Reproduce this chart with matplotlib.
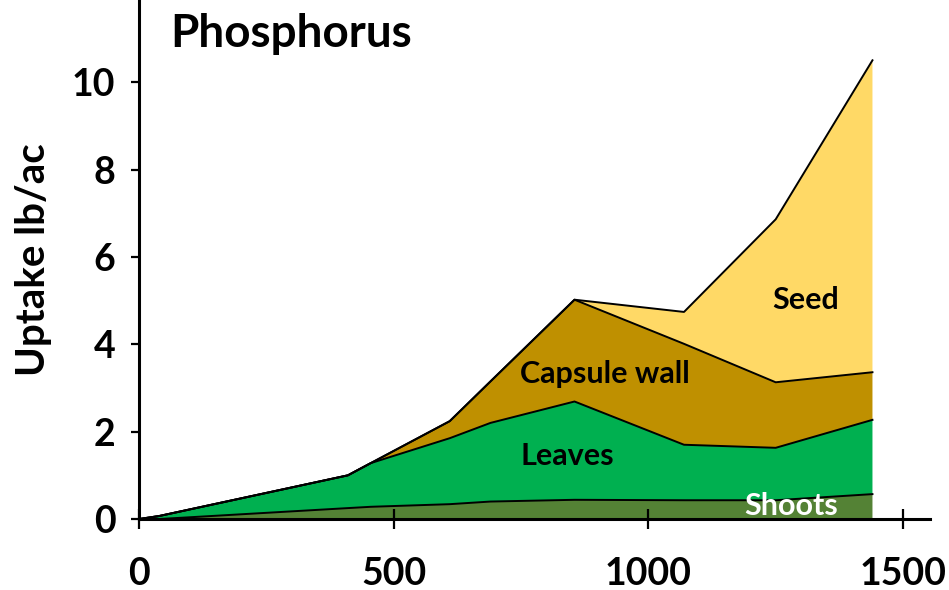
import numpy as np
import matplotlib
matplotlib.use("Agg")
import matplotlib.pyplot as plt

plt.rcParams['font.family'] = ['Lato', 'DejaVu Sans']
plt.rcParams['font.weight'] = 'bold'

# growing degree days (x) and stacked P uptake by plant part
gdd = [0, 40, 410, 455, 610, 690, 855, 1070, 1250, 1440]
shoots = [0, 0, 0.25, 0.28, 0.34, 0.40, 0.44, 0.43, 0.43, 0.57]
leaves = [0, 0.07, 0.75, 1.00, 1.51, 1.80, 2.25, 1.27, 1.20, 1.70]
capsule = [0, 0, 0, 0, 0.39, 0.95, 2.33, 2.31, 1.50, 1.09]
seed = [0, 0, 0, 0, 0, 0, 0, 0.73, 3.73, 7.14]

names = ["Shoots", "Leaves", "Capsule wall", "Seed"]
colors = ["#548235", "#00B050", "#BF9000", "#FFD966"]
xticks = [0, 500, 1000, 1500]
yticks = [0, 2, 4, 6, 8, 10]

fig = plt.figure(figsize=(9.49, 5.90), dpi=100)
ax = fig.add_axes([0.1465, 0.1203, 0.98 - 0.1465, 1 - 0.1203])

ax.stackplot(gdd, shoots, leaves, capsule, seed, colors=colors, linewidth=0)

# black boundary lines
cum = np.cumsum(np.array([shoots, leaves, capsule, seed]), axis=0)
for row in cum:
    ax.plot(gdd, row, color="black", lw=1.4, solid_joinstyle="round")

ax.set_xlim(0, 1553)
ax.set_ylim(0, 11.88)
ax.set_xticks(xticks)
ax.set_yticks(yticks)
ax.tick_params(axis='x', direction='inout', length=14, width=1.6, labelsize=27, pad=20)
ax.tick_params(axis='y', direction='out', length=6, width=1.6, labelsize=27, pad=11)
for lab in ax.get_xticklabels() + ax.get_yticklabels():
    lab.set_fontweight('bold')

ax.spines['top'].set_visible(False)
ax.spines['right'].set_visible(False)
ax.spines['left'].set_linewidth(2.2)
ax.spines['bottom'].set_linewidth(2.2)

ax.set_ylabel("Uptake lb/ac", fontsize=29, fontweight='bold', labelpad=14)

ax.text(62, 11.1, "Phosphorus", fontsize=33, fontweight='bold', va='center', ha='left')
ax.text(1309, 5.01, "Seed", fontsize=22, fontweight='bold', ha='center', va='center')
ax.text(914, 3.33, "Capsule wall", fontsize=22, fontweight='bold', ha='center', va='center')
ax.text(840, 1.44, "Leaves", fontsize=22, fontweight='bold', ha='center', va='center')
ax.text(1280, 0.30, "Shoots", fontsize=22, fontweight='bold', ha='center', va='center', color='white')

fig.savefig("out.png", dpi=100)
